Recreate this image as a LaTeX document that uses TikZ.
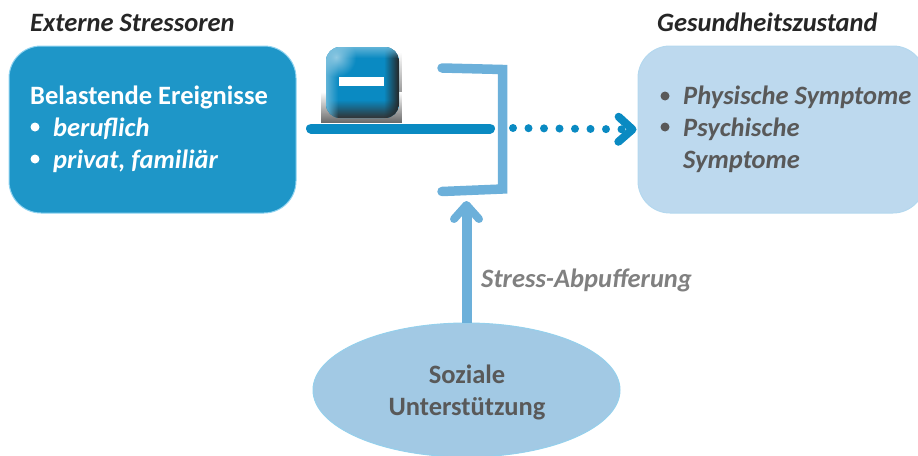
\documentclass[tikz,border=0pt]{standalone}
\usepackage{fontspec}
\setmainfont{Carlito}
\usetikzlibrary{arrows.meta,fadings,shapes.geometric}
\definecolor{stressblue}{HTML}{1E96C8}
\definecolor{healthblue}{HTML}{BDD9EE}
\definecolor{supportblue}{HTML}{A2C9E4}
\definecolor{edgeblue}{HTML}{8FD3F0}
\definecolor{linkblue}{HTML}{0A8AC2}
\definecolor{bufferblue}{HTML}{6CB0DA}
\definecolor{textgray}{HTML}{595959}
\tikzfading[name=fadedown, top color=transparent!100, bottom color=transparent!0]
\tikzfading[name=faderight, left color=transparent!100, right color=transparent!0]
\tikzfading[name=fadeup, top color=transparent!0, bottom color=transparent!100]
\tikzfading[name=fadeleft, left color=transparent!0, right color=transparent!100]
\tikzfading[name=fadecorner, inner color=transparent!0, outer color=transparent!100]
\tikzset{
    titlelabel/.style={font=\fontsize{26.5}{26.5}\selectfont\bfseries\itshape, text=black!85, inner sep=0pt, anchor=base west},
    roundbox/.style={rounded corners=32pt, minimum width=287pt, minimum height=167pt, inner sep=0pt},
    boxline/.style={font=\fontsize{26.5}{26.5}\selectfont\bfseries, inner sep=0pt, anchor=base west},
    itemline/.style={boxline, font=\fontsize{26.5}{26.5}\selectfont\bfseries\itshape},
    bulletmark/.style={circle, inner sep=0pt, minimum size=9pt},
    bufferline/.style={bufferblue, line width=9.5pt},
    buttonshape/.style={rounded corners=14pt}
}
\begin{document}
\begin{tikzpicture}[x=1pt, y=-1pt]
    \useasboundingbox (0,0) rectangle (918,455);
    \clip (0,0) rectangle (918,455);

    % Boxes
    \node[roundbox, fill=stressblue, draw=edgeblue, line width=1pt] (stressbox) at (152.5,129.5) {};
    \node[roundbox, fill=healthblue, draw=healthblue!80!edgeblue, line width=1pt] (healthbox) at (781.5,129.5) {};
    \node[ellipse, fill=supportblue, draw=edgeblue!70!supportblue, line width=1pt, minimum width=307pt, minimum height=134pt, inner sep=0pt] (supportell) at (466.5,390) {};

    % Titles
    \node[titlelabel] (stresstitle) at (30,31) {Externe Stressoren};
    \node[titlelabel] (healthtitle) at (657,31) {Gesundheitszustand};

    % Left box text
    \node[boxline, white] (eventtext) at (30,104) {Belastende Ereignisse};
    \node[bulletmark, fill=white] (jobdot) at (35,127) {};
    \node[itemline, white] (jobtext) at (53,136) {beruflich};
    \node[bulletmark, fill=white] (homedot) at (35,159) {};
    \node[itemline, white] (hometext) at (53,168) {privat, familiär};

    % Right box text
    \node[bulletmark, fill=textgray] (bodydot) at (665,96) {};
    \node[itemline, textgray] (bodytext) at (683,104) {Physische Symptome};
    \node[bulletmark, fill=textgray] (minddot) at (665,127) {};
    \node[itemline, textgray] (mindtext) at (683,136) {Psychische};
    \node[itemline, textgray] (mindtext2) at (683,168) {Symptome};

    % Ellipse text
    \node[boxline, textgray, anchor=base] (supporttext) at (467,383) {Soziale};
    \node[boxline, textgray, anchor=base] (supporttext2) at (467,415) {Unterstützung};

    % Buffer label
    \node[itemline, text=black!50] (bufferlabel) at (481,287) {Stress-Abpufferung};

    % Free ends
    \coordinate (linestart) at (311,128.5);
    \coordinate (lineend) at (490,128.5);
    \coordinate (dotstart) at (513,128);
    \coordinate (bufferend) at (466.5,201);
    \coordinate (brackettop) at (442,68);
    \coordinate (cornertop) at (502.5,69.5);
    \coordinate (cornerbottom) at (502.5,189);
    \coordinate (bracketbottom) at (442,191.5);

    % Inhibition line and bracket
    \draw[linkblue, line width=10pt, line cap=round] (linestart) -- (lineend);
    \draw[bufferline, line cap=round, miter limit=10] (brackettop) -- (cornertop) -- (cornerbottom) -- (bracketbottom);

    % Dotted arrow
    \draw[linkblue, line width=8pt, line cap=round, dash pattern=on 0pt off 15.5pt,
        -{Straight Barb[round, length=14pt, width=25pt, line width=8pt]}, shorten >=1pt] (dotstart) -- (healthbox.west);

    % Buffer arrow
    \draw[bufferline, line width=10pt, -{Straight Barb[round, length=14pt, width=25pt, line width=8pt]}] (supportell.north) -- (bufferend);

    % Minus button
    \fill[black!60, path fading=fadedown] (321,92) rectangle (402,123);
    \fill[black!40, path fading=fadedown] (398,52) rectangle (402,92);
    \fill[linkblue, buttonshape] (326,47) rectangle (399,118);
    \begin{scope}
        \clip[buttonshape] (326,47) rectangle (399,118);
        \fill[black!80, path fading=fadedown] (326,100) rectangle (399,118);
        \fill[black!85, path fading=faderight] (384,47) rectangle (399,118);
        \fill[white!35!linkblue, path fading=fadeleft] (326,47) rectangle (338,118);
        \fill[white!35!linkblue, path fading=fadeup] (326,47) rectangle (399,58);
        \fill[white!55!linkblue, path fading=fadecorner] (316,37) rectangle (356,77);
    \end{scope}
    \node[fill=white, minimum width=45pt, minimum height=9pt, inner sep=0pt] (minusbar) at (361.5,81.5) {};
\end{tikzpicture}
\end{document}
